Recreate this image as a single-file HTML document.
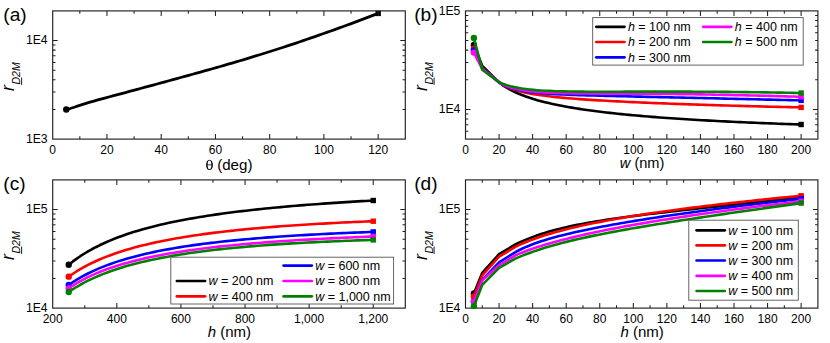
<!DOCTYPE html><html><head><meta charset="utf-8"><style>html,body{margin:0;padding:0;background:#fff}svg{display:block}text{font-family:"Liberation Sans", sans-serif;fill:#000}</style></head><body>
<svg width="830" height="343" viewBox="0 0 830 343">
<rect width="830" height="343" fill="#fff"/>
<clipPath id="ca"><rect x="52.7" y="7.9" width="352.6" height="131.2"/></clipPath>
<g>
<path d="M66.26 109.49 L70.21 108.52 L74.16 107.21 L78.11 105.86 L82.05 104.56 L86.00 103.33 L89.95 102.17 L93.90 101.04 L97.85 99.95 L101.80 98.88 L105.74 97.82 L109.69 96.76 L113.64 95.71 L117.59 94.65 L121.54 93.59 L125.49 92.53 L129.43 91.47 L133.38 90.40 L137.33 89.33 L141.28 88.26 L145.23 87.19 L149.18 86.12 L153.12 85.05 L157.07 83.98 L161.02 82.91 L164.97 81.83 L168.92 80.76 L172.87 79.68 L176.81 78.60 L180.76 77.52 L184.71 76.44 L188.66 75.35 L192.61 74.26 L196.56 73.17 L200.50 72.07 L204.45 70.97 L208.40 69.86 L212.35 68.74 L216.30 67.62 L220.25 66.49 L224.19 65.35 L228.14 64.21 L232.09 63.06 L236.04 61.90 L239.99 60.73 L243.93 59.55 L247.88 58.36 L251.83 57.16 L255.78 55.95 L259.73 54.73 L263.68 53.51 L267.62 52.27 L271.57 51.02 L275.52 49.76 L279.47 48.49 L283.42 47.21 L287.37 45.91 L291.31 44.61 L295.26 43.30 L299.21 41.97 L303.16 40.64 L307.11 39.29 L311.06 37.94 L315.00 36.57 L318.95 35.19 L322.90 33.80 L326.85 32.41 L330.80 31.00 L334.75 29.58 L338.69 28.16 L342.64 26.72 L346.59 25.28 L350.54 23.82 L354.49 22.36 L358.44 20.89 L362.38 19.41 L366.33 17.92 L370.28 16.42 L374.23 14.92 L378.18 13.41" stroke="#000000" stroke-width="2.8" fill="none" stroke-linejoin="round" stroke-linecap="butt"/>
<circle cx="66.26" cy="109.49" r="3.2" fill="#000000"/>
<rect x="375.48" y="10.71" width="5.4" height="5.4" fill="#000000"/>
</g>
<rect x="52.7" y="10.9" width="352.60" height="128.20" fill="none" stroke="#202020" stroke-width="1.15"/>
<text x="52.70" y="153.90" text-anchor="middle" font-size="12">0</text>
<text x="106.95" y="153.90" text-anchor="middle" font-size="12">20</text>
<text x="161.19" y="153.90" text-anchor="middle" font-size="12">40</text>
<text x="215.44" y="153.90" text-anchor="middle" font-size="12">60</text>
<text x="269.68" y="153.90" text-anchor="middle" font-size="12">80</text>
<text x="323.93" y="153.90" text-anchor="middle" font-size="12">100</text>
<text x="378.18" y="153.90" text-anchor="middle" font-size="12">120</text>
<path d="M79.82 139.1v-2.8M79.82 10.9v2.8M106.95 139.1v-5.0M106.95 10.9v5.0M134.07 139.1v-2.8M134.07 10.9v2.8M161.19 139.1v-5.0M161.19 10.9v5.0M188.32 139.1v-2.8M188.32 10.9v2.8M215.44 139.1v-5.0M215.44 10.9v5.0M242.56 139.1v-2.8M242.56 10.9v2.8M269.68 139.1v-5.0M269.68 10.9v5.0M296.81 139.1v-2.8M296.81 10.9v2.8M323.93 139.1v-5.0M323.93 10.9v5.0M351.05 139.1v-2.8M351.05 10.9v2.8M378.18 139.1v-5.0M378.18 10.9v5.0" stroke="#202020" stroke-width="1.05" fill="none"/>
<text x="47.60" y="142.90" text-anchor="end" font-size="12.2">1E3</text>
<text x="47.60" y="44.36" text-anchor="end" font-size="12.2">1E4</text>
<path d="M52.7 109.44h2.8M405.3 109.44h-2.8M52.7 92.09h2.8M405.3 92.09h-2.8M52.7 79.77h2.8M405.3 79.77h-2.8M52.7 70.23h2.8M405.3 70.23h-2.8M52.7 62.42h2.8M405.3 62.42h-2.8M52.7 55.83h2.8M405.3 55.83h-2.8M52.7 50.11h2.8M405.3 50.11h-2.8M52.7 45.07h2.8M405.3 45.07h-2.8M52.7 40.56h5.0M405.3 40.56h-5.0" stroke="#202020" stroke-width="1.05" fill="none"/>
<g transform="translate(14.1,91.0) rotate(-90)"><text x="0" y="0" font-size="18" font-style="italic">r</text><text x="6.4" y="6.0" font-size="10.6" font-style="italic">D2M</text><path d="M6.1 7.5h7.4" stroke="#000" stroke-width="0.9"/></g>
<text x="3.3" y="20.6" font-size="19.1">(a)</text>
<path fill-rule="evenodd" fill="#000" d="M209.5 159.7c2.1 0 3.4 2.3 3.4 5.2s-1.3 5.2-3.4 5.2s-3.4-2.3-3.4-5.2s1.3-5.2 3.4-5.2zM209.5 160.5c-1.2 0-1.8 1.5-1.9 3.9h3.8c-0.1-2.4-0.7-3.9-1.9-3.9zM207.6 165.3c0.1 2.5 0.7 4 1.9 4s1.8-1.5 1.9-4z"/>
<text x="217.2" y="170.3" font-size="15.1">(deg)</text>
<path d="M473.89 44.90 L482.28 66.00 L499.06 82.50 L502.89 85.30 L506.71 87.74 L510.53 89.88 L514.36 91.79 L518.18 93.51 L522.00 95.06 L525.83 96.49 L529.65 97.80 L533.47 99.00 L537.30 100.13 L541.12 101.17 L544.94 102.15 L548.77 103.07 L552.59 103.93 L556.41 104.75 L560.24 105.52 L564.06 106.25 L567.89 106.95 L571.71 107.61 L575.53 108.24 L579.36 108.85 L583.18 109.43 L587.00 109.98 L590.83 110.51 L594.65 111.02 L598.47 111.51 L602.30 111.98 L606.12 112.43 L609.94 112.87 L613.77 113.30 L617.59 113.70 L621.41 114.10 L625.24 114.48 L629.06 114.85 L632.88 115.21 L636.71 115.56 L640.53 115.89 L644.36 116.22 L648.18 116.54 L652.00 116.85 L655.83 117.15 L659.65 117.44 L663.47 117.72 L667.30 118.00 L671.12 118.27 L674.94 118.53 L678.77 118.78 L682.59 119.03 L686.41 119.27 L690.24 119.51 L694.06 119.74 L697.88 119.97 L701.71 120.19 L705.53 120.40 L709.35 120.61 L713.18 120.82 L717.00 121.02 L720.83 121.21 L724.65 121.40 L728.47 121.59 L732.30 121.77 L736.12 121.95 L739.94 122.13 L743.77 122.30 L747.59 122.47 L751.41 122.63 L755.24 122.80 L759.06 122.95 L762.88 123.11 L766.71 123.26 L770.53 123.41 L774.35 123.56 L778.18 123.70 L782.00 123.84 L785.83 123.98 L789.65 124.11 L793.47 124.24 L797.30 124.37 L801.12 124.50" stroke="#000000" stroke-width="2.6" fill="none" stroke-linejoin="round" stroke-linecap="butt"/>
<circle cx="473.89" cy="44.90" r="3.2" fill="#000000"/>
<rect x="798.42" y="121.80" width="5.4" height="5.4" fill="#000000"/>
<path d="M473.89 48.80 L482.28 68.00 L499.06 82.30 L502.89 84.75 L506.71 86.72 L510.53 88.34 L514.36 89.69 L518.18 90.85 L522.00 91.84 L525.83 92.71 L529.65 93.47 L533.47 94.15 L537.30 94.77 L541.12 95.32 L544.94 95.83 L548.77 96.29 L552.59 96.73 L556.41 97.13 L560.24 97.50 L564.06 97.85 L567.89 98.18 L571.71 98.50 L575.53 98.80 L579.36 99.08 L583.18 99.35 L587.00 99.61 L590.83 99.86 L594.65 100.10 L598.47 100.33 L602.30 100.56 L606.12 100.77 L609.94 100.98 L613.77 101.19 L617.59 101.38 L621.41 101.57 L625.24 101.76 L629.06 101.94 L632.88 102.12 L636.71 102.29 L640.53 102.46 L644.36 102.63 L648.18 102.79 L652.00 102.95 L655.83 103.11 L659.65 103.26 L663.47 103.41 L667.30 103.55 L671.12 103.70 L674.94 103.84 L678.77 103.98 L682.59 104.11 L686.41 104.24 L690.24 104.38 L694.06 104.50 L697.88 104.63 L701.71 104.76 L705.53 104.88 L709.35 105.00 L713.18 105.12 L717.00 105.23 L720.83 105.35 L724.65 105.46 L728.47 105.57 L732.30 105.68 L736.12 105.79 L739.94 105.90 L743.77 106.00 L747.59 106.10 L751.41 106.21 L755.24 106.31 L759.06 106.40 L762.88 106.50 L766.71 106.60 L770.53 106.69 L774.35 106.78 L778.18 106.88 L782.00 106.97 L785.83 107.06 L789.65 107.14 L793.47 107.23 L797.30 107.32 L801.12 107.40" stroke="#ff0000" stroke-width="2.6" fill="none" stroke-linejoin="round" stroke-linecap="butt"/>
<circle cx="473.89" cy="48.80" r="3.2" fill="#ff0000"/>
<rect x="798.42" y="104.70" width="5.4" height="5.4" fill="#ff0000"/>
<path d="M473.89 50.50 L482.28 68.50 L499.06 82.30 L502.89 84.63 L506.71 86.44 L510.53 87.87 L514.36 89.03 L518.18 89.97 L522.00 90.74 L525.83 91.39 L529.65 91.94 L533.47 92.40 L537.30 92.80 L541.12 93.15 L544.94 93.45 L548.77 93.72 L552.59 93.96 L556.41 94.17 L560.24 94.36 L564.06 94.53 L567.89 94.69 L571.71 94.84 L575.53 94.98 L579.36 95.11 L583.18 95.23 L587.00 95.35 L590.83 95.46 L594.65 95.56 L598.47 95.67 L602.30 95.77 L606.12 95.86 L609.94 95.96 L613.77 96.05 L617.59 96.14 L621.41 96.23 L625.24 96.32 L629.06 96.41 L632.88 96.49 L636.71 96.58 L640.53 96.67 L644.36 96.75 L648.18 96.84 L652.00 96.93 L655.83 97.01 L659.65 97.10 L663.47 97.18 L667.30 97.27 L671.12 97.36 L674.94 97.44 L678.77 97.53 L682.59 97.62 L686.41 97.70 L690.24 97.79 L694.06 97.88 L697.88 97.97 L701.71 98.05 L705.53 98.14 L709.35 98.23 L713.18 98.32 L717.00 98.41 L720.83 98.50 L724.65 98.59 L728.47 98.68 L732.30 98.77 L736.12 98.86 L739.94 98.95 L743.77 99.04 L747.59 99.13 L751.41 99.22 L755.24 99.31 L759.06 99.40 L762.88 99.49 L766.71 99.58 L770.53 99.67 L774.35 99.76 L778.18 99.85 L782.00 99.95 L785.83 100.04 L789.65 100.13 L793.47 100.22 L797.30 100.31 L801.12 100.40" stroke="#0000ff" stroke-width="2.6" fill="none" stroke-linejoin="round" stroke-linecap="butt"/>
<circle cx="473.89" cy="50.50" r="3.2" fill="#0000ff"/>
<rect x="798.42" y="97.70" width="5.4" height="5.4" fill="#0000ff"/>
<path d="M473.89 52.60 L482.28 69.00 L499.06 82.30 L502.89 84.39 L506.71 86.05 L510.53 87.39 L514.36 88.47 L518.18 89.35 L522.00 90.07 L525.83 90.67 L529.65 91.16 L533.47 91.58 L537.30 91.92 L541.12 92.20 L544.94 92.44 L548.77 92.64 L552.59 92.80 L556.41 92.94 L560.24 93.06 L564.06 93.15 L567.89 93.23 L571.71 93.30 L575.53 93.35 L579.36 93.40 L583.18 93.44 L587.00 93.47 L590.83 93.50 L594.65 93.52 L598.47 93.54 L602.30 93.56 L606.12 93.58 L609.94 93.60 L613.77 93.61 L617.59 93.63 L621.41 93.65 L625.24 93.67 L629.06 93.68 L632.88 93.70 L636.71 93.73 L640.53 93.75 L644.36 93.77 L648.18 93.80 L652.00 93.83 L655.83 93.86 L659.65 93.89 L663.47 93.93 L667.30 93.97 L671.12 94.01 L674.94 94.05 L678.77 94.10 L682.59 94.15 L686.41 94.20 L690.24 94.25 L694.06 94.30 L697.88 94.36 L701.71 94.42 L705.53 94.49 L709.35 94.55 L713.18 94.62 L717.00 94.69 L720.83 94.76 L724.65 94.84 L728.47 94.91 L732.30 94.99 L736.12 95.08 L739.94 95.16 L743.77 95.25 L747.59 95.34 L751.41 95.43 L755.24 95.52 L759.06 95.62 L762.88 95.71 L766.71 95.81 L770.53 95.92 L774.35 96.02 L778.18 96.13 L782.00 96.23 L785.83 96.34 L789.65 96.46 L793.47 96.57 L797.30 96.68 L801.12 96.80" stroke="#ff00ff" stroke-width="2.6" fill="none" stroke-linejoin="round" stroke-linecap="butt"/>
<circle cx="473.89" cy="52.60" r="3.2" fill="#ff00ff"/>
<rect x="798.42" y="94.10" width="5.4" height="5.4" fill="#ff00ff"/>
<path d="M473.89 38.00 L482.28 69.80 L499.06 82.30 L502.89 83.85 L506.71 85.14 L510.53 86.21 L514.36 87.11 L518.18 87.86 L522.00 88.50 L525.83 89.03 L529.65 89.49 L533.47 89.87 L537.30 90.19 L541.12 90.47 L544.94 90.70 L548.77 90.89 L552.59 91.06 L556.41 91.19 L560.24 91.31 L564.06 91.40 L567.89 91.48 L571.71 91.54 L575.53 91.59 L579.36 91.63 L583.18 91.66 L587.00 91.68 L590.83 91.69 L594.65 91.70 L598.47 91.71 L602.30 91.71 L606.12 91.71 L609.94 91.70 L613.77 91.70 L617.59 91.69 L621.41 91.68 L625.24 91.67 L629.06 91.66 L632.88 91.65 L636.71 91.65 L640.53 91.64 L644.36 91.63 L648.18 91.62 L652.00 91.62 L655.83 91.62 L659.65 91.61 L663.47 91.61 L667.30 91.62 L671.12 91.62 L674.94 91.62 L678.77 91.63 L682.59 91.64 L686.41 91.65 L690.24 91.66 L694.06 91.68 L697.88 91.70 L701.71 91.72 L705.53 91.74 L709.35 91.76 L713.18 91.79 L717.00 91.82 L720.83 91.85 L724.65 91.88 L728.47 91.92 L732.30 91.95 L736.12 91.99 L739.94 92.04 L743.77 92.08 L747.59 92.13 L751.41 92.18 L755.24 92.23 L759.06 92.28 L762.88 92.34 L766.71 92.39 L770.53 92.45 L774.35 92.51 L778.18 92.58 L782.00 92.64 L785.83 92.71 L789.65 92.78 L793.47 92.85 L797.30 92.93 L801.12 93.00" stroke="#008000" stroke-width="2.6" fill="none" stroke-linejoin="round" stroke-linecap="butt"/>
<circle cx="473.89" cy="38.00" r="3.2" fill="#008000"/>
<rect x="798.42" y="90.30" width="5.4" height="5.4" fill="#008000"/>
<rect x="465.5" y="10.9" width="352.40" height="128.20" fill="none" stroke="#202020" stroke-width="1.15"/>
<text x="465.50" y="153.90" text-anchor="middle" font-size="12">0</text>
<text x="499.06" y="153.90" text-anchor="middle" font-size="12">20</text>
<text x="532.62" y="153.90" text-anchor="middle" font-size="12">40</text>
<text x="566.19" y="153.90" text-anchor="middle" font-size="12">60</text>
<text x="599.75" y="153.90" text-anchor="middle" font-size="12">80</text>
<text x="633.31" y="153.90" text-anchor="middle" font-size="12">100</text>
<text x="666.87" y="153.90" text-anchor="middle" font-size="12">120</text>
<text x="700.43" y="153.90" text-anchor="middle" font-size="12">140</text>
<text x="734.00" y="153.90" text-anchor="middle" font-size="12">160</text>
<text x="767.56" y="153.90" text-anchor="middle" font-size="12">180</text>
<text x="801.12" y="153.90" text-anchor="middle" font-size="12">200</text>
<path d="M482.28 139.1v-2.8M482.28 10.9v2.8M499.06 139.1v-5.0M499.06 10.9v5.0M515.84 139.1v-2.8M515.84 10.9v2.8M532.62 139.1v-5.0M532.62 10.9v5.0M549.40 139.1v-2.8M549.40 10.9v2.8M566.19 139.1v-5.0M566.19 10.9v5.0M582.97 139.1v-2.8M582.97 10.9v2.8M599.75 139.1v-5.0M599.75 10.9v5.0M616.53 139.1v-2.8M616.53 10.9v2.8M633.31 139.1v-5.0M633.31 10.9v5.0M650.09 139.1v-2.8M650.09 10.9v2.8M666.87 139.1v-5.0M666.87 10.9v5.0M683.65 139.1v-2.8M683.65 10.9v2.8M700.43 139.1v-5.0M700.43 10.9v5.0M717.21 139.1v-2.8M717.21 10.9v2.8M734.00 139.1v-5.0M734.00 10.9v5.0M750.78 139.1v-2.8M750.78 10.9v2.8M767.56 139.1v-5.0M767.56 10.9v5.0M784.34 139.1v-2.8M784.34 10.9v2.8M801.12 139.1v-5.0M801.12 10.9v5.0" stroke="#202020" stroke-width="1.05" fill="none"/>
<text x="460.40" y="113.24" text-anchor="end" font-size="12.2">1E4</text>
<text x="460.40" y="14.70" text-anchor="end" font-size="12.2">1E5</text>
<path d="M465.5 131.30h2.8M817.9 131.30h-2.8M465.5 124.70h2.8M817.9 124.70h-2.8M465.5 118.99h2.8M817.9 118.99h-2.8M465.5 113.95h2.8M817.9 113.95h-2.8M465.5 109.44h5.0M817.9 109.44h-5.0M465.5 79.77h2.8M817.9 79.77h-2.8M465.5 62.42h2.8M817.9 62.42h-2.8M465.5 50.11h2.8M817.9 50.11h-2.8M465.5 40.56h2.8M817.9 40.56h-2.8M465.5 32.76h2.8M817.9 32.76h-2.8M465.5 26.16h2.8M817.9 26.16h-2.8M465.5 20.45h2.8M817.9 20.45h-2.8M465.5 15.41h2.8M817.9 15.41h-2.8" stroke="#202020" stroke-width="1.05" fill="none"/>
<g transform="translate(426.6,91.0) rotate(-90)"><text x="0" y="0" font-size="18" font-style="italic">r</text><text x="6.4" y="6.0" font-size="10.6" font-style="italic">D2M</text><path d="M6.1 7.5h7.4" stroke="#000" stroke-width="0.9"/></g>
<text x="414.2" y="20.6" font-size="19.1">(b)</text>
<text x="642.1" y="167.7" text-anchor="middle" font-size="14.6"><tspan font-style="italic">w</tspan> (nm)</text>
<rect x="592.7" y="17.6" width="210.5" height="47.5" fill="#fff" stroke="#555" stroke-width="0.9"/>
<path d="M596.3 26.8h28.2" stroke="#000000" stroke-width="2.7" stroke-linecap="round"/>
<text x="627.90" y="31.20" font-size="12.5"><tspan font-style="italic">h</tspan> = 100 nm</text>
<path d="M596.3 42.0h28.2" stroke="#ff0000" stroke-width="2.7" stroke-linecap="round"/>
<text x="627.90" y="46.40" font-size="12.5"><tspan font-style="italic">h</tspan> = 200 nm</text>
<path d="M596.3 57.3h28.2" stroke="#0000ff" stroke-width="2.7" stroke-linecap="round"/>
<text x="627.90" y="61.70" font-size="12.5"><tspan font-style="italic">h</tspan> = 300 nm</text>
<path d="M703.2 26.8h28.2" stroke="#ff00ff" stroke-width="2.7" stroke-linecap="round"/>
<text x="734.80" y="31.20" font-size="12.5"><tspan font-style="italic">h</tspan> = 400 nm</text>
<path d="M703.2 42.0h28.2" stroke="#008000" stroke-width="2.7" stroke-linecap="round"/>
<text x="734.80" y="46.40" font-size="12.5"><tspan font-style="italic">h</tspan> = 500 nm</text>
<path d="M68.73 264.70 L72.58 261.67 L76.44 258.84 L80.29 256.21 L84.15 253.74 L88.00 251.43 L91.86 249.26 L95.71 247.22 L99.56 245.29 L103.42 243.47 L107.27 241.74 L111.13 240.11 L114.98 238.56 L118.84 237.08 L122.69 235.67 L126.55 234.33 L130.40 233.05 L134.26 231.83 L138.11 230.66 L141.97 229.54 L145.82 228.46 L149.68 227.43 L153.53 226.44 L157.38 225.49 L161.24 224.58 L165.09 223.70 L168.95 222.85 L172.80 222.03 L176.66 221.24 L180.51 220.48 L184.37 219.75 L188.22 219.04 L192.08 218.35 L195.93 217.68 L199.79 217.04 L203.64 216.42 L207.50 215.81 L211.35 215.23 L215.20 214.66 L219.06 214.11 L222.91 213.57 L226.77 213.05 L230.62 212.55 L234.48 212.06 L238.33 211.58 L242.19 211.12 L246.04 210.67 L249.90 210.23 L253.75 209.80 L257.61 209.38 L261.46 208.98 L265.31 208.58 L269.17 208.19 L273.02 207.82 L276.88 207.45 L280.73 207.09 L284.59 206.74 L288.44 206.40 L292.30 206.07 L296.15 205.74 L300.01 205.42 L303.86 205.11 L307.72 204.80 L311.57 204.51 L315.43 204.22 L319.28 203.93 L323.13 203.65 L326.99 203.38 L330.84 203.11 L334.70 202.85 L338.55 202.59 L342.41 202.34 L346.26 202.10 L350.12 201.86 L353.97 201.62 L357.83 201.39 L361.68 201.16 L365.54 200.94 L369.39 200.72 L373.25 200.51" stroke="#000000" stroke-width="2.6" fill="none" stroke-linejoin="round" stroke-linecap="butt"/>
<circle cx="68.73" cy="264.70" r="3.2" fill="#000000"/>
<rect x="370.55" y="197.81" width="5.4" height="5.4" fill="#000000"/>
<path d="M68.73 276.65 L72.58 273.97 L76.44 271.48 L80.29 269.15 L84.15 266.98 L88.00 264.93 L91.86 263.02 L95.71 261.21 L99.56 259.50 L103.42 257.89 L107.27 256.37 L111.13 254.92 L114.98 253.55 L118.84 252.24 L122.69 251.00 L126.55 249.81 L130.40 248.68 L134.26 247.60 L138.11 246.57 L141.97 245.59 L145.82 244.64 L149.68 243.74 L153.53 242.87 L157.38 242.03 L161.24 241.23 L165.09 240.46 L168.95 239.72 L172.80 239.01 L176.66 238.32 L180.51 237.66 L184.37 237.02 L188.22 236.41 L192.08 235.81 L195.93 235.24 L199.79 234.68 L203.64 234.15 L207.50 233.63 L211.35 233.13 L215.20 232.64 L219.06 232.18 L222.91 231.72 L226.77 231.28 L230.62 230.85 L234.48 230.44 L238.33 230.04 L242.19 229.65 L246.04 229.27 L249.90 228.90 L253.75 228.55 L257.61 228.20 L261.46 227.87 L265.31 227.54 L269.17 227.22 L273.02 226.91 L276.88 226.61 L280.73 226.32 L284.59 226.04 L288.44 225.76 L292.30 225.49 L296.15 225.23 L300.01 224.98 L303.86 224.73 L307.72 224.49 L311.57 224.25 L315.43 224.02 L319.28 223.80 L323.13 223.58 L326.99 223.37 L330.84 223.16 L334.70 222.96 L338.55 222.76 L342.41 222.57 L346.26 222.39 L350.12 222.20 L353.97 222.02 L357.83 221.85 L361.68 221.68 L365.54 221.52 L369.39 221.36 L373.25 221.20" stroke="#ff0000" stroke-width="2.6" fill="none" stroke-linejoin="round" stroke-linecap="butt"/>
<circle cx="68.73" cy="276.65" r="3.2" fill="#ff0000"/>
<rect x="370.55" y="218.50" width="5.4" height="5.4" fill="#ff0000"/>
<path d="M68.73 285.00 L72.58 282.36 L76.44 279.90 L80.29 277.62 L84.15 275.48 L88.00 273.48 L91.86 271.60 L95.71 269.84 L99.56 268.17 L103.42 266.60 L107.27 265.12 L111.13 263.72 L114.98 262.39 L118.84 261.12 L122.69 259.92 L126.55 258.78 L130.40 257.69 L134.26 256.65 L138.11 255.66 L141.97 254.71 L145.82 253.80 L149.68 252.94 L153.53 252.11 L157.38 251.31 L161.24 250.55 L165.09 249.81 L168.95 249.11 L172.80 248.43 L176.66 247.78 L180.51 247.15 L184.37 246.55 L188.22 245.96 L192.08 245.40 L195.93 244.86 L199.79 244.34 L203.64 243.83 L207.50 243.35 L211.35 242.88 L215.20 242.42 L219.06 241.98 L222.91 241.56 L226.77 241.15 L230.62 240.75 L234.48 240.36 L238.33 239.99 L242.19 239.62 L246.04 239.27 L249.90 238.93 L253.75 238.60 L257.61 238.28 L261.46 237.97 L265.31 237.67 L269.17 237.38 L273.02 237.09 L276.88 236.82 L280.73 236.55 L284.59 236.29 L288.44 236.03 L292.30 235.79 L296.15 235.55 L300.01 235.32 L303.86 235.09 L307.72 234.87 L311.57 234.65 L315.43 234.45 L319.28 234.24 L323.13 234.05 L326.99 233.85 L330.84 233.67 L334.70 233.48 L338.55 233.31 L342.41 233.13 L346.26 232.97 L350.12 232.80 L353.97 232.64 L357.83 232.49 L361.68 232.33 L365.54 232.19 L369.39 232.04 L373.25 231.90" stroke="#0000ff" stroke-width="2.6" fill="none" stroke-linejoin="round" stroke-linecap="butt"/>
<circle cx="68.73" cy="285.00" r="3.2" fill="#0000ff"/>
<rect x="370.55" y="229.20" width="5.4" height="5.4" fill="#0000ff"/>
<path d="M68.73 288.35 L72.58 285.77 L76.44 283.39 L80.29 281.17 L84.15 279.09 L88.00 277.15 L91.86 275.33 L95.71 273.62 L99.56 272.01 L103.42 270.50 L107.27 269.06 L111.13 267.70 L114.98 266.42 L118.84 265.19 L122.69 264.03 L126.55 262.93 L130.40 261.88 L134.26 260.87 L138.11 259.91 L141.97 259.00 L145.82 258.12 L149.68 257.28 L153.53 256.48 L157.38 255.71 L161.24 254.97 L165.09 254.26 L168.95 253.58 L172.80 252.92 L176.66 252.29 L180.51 251.68 L184.37 251.09 L188.22 250.53 L192.08 249.98 L195.93 249.46 L199.79 248.95 L203.64 248.46 L207.50 247.98 L211.35 247.52 L215.20 247.08 L219.06 246.65 L222.91 246.23 L226.77 245.83 L230.62 245.43 L234.48 245.05 L238.33 244.69 L242.19 244.33 L246.04 243.98 L249.90 243.65 L253.75 243.32 L257.61 243.00 L261.46 242.69 L265.31 242.39 L269.17 242.10 L273.02 241.82 L276.88 241.54 L280.73 241.27 L284.59 241.01 L288.44 240.76 L292.30 240.51 L296.15 240.27 L300.01 240.03 L303.86 239.80 L307.72 239.58 L311.57 239.36 L315.43 239.15 L319.28 238.94 L323.13 238.74 L326.99 238.54 L330.84 238.35 L334.70 238.16 L338.55 237.97 L342.41 237.80 L346.26 237.62 L350.12 237.45 L353.97 237.28 L357.83 237.12 L361.68 236.96 L365.54 236.80 L369.39 236.65 L373.25 236.50" stroke="#ff00ff" stroke-width="2.6" fill="none" stroke-linejoin="round" stroke-linecap="butt"/>
<circle cx="68.73" cy="288.35" r="3.2" fill="#ff00ff"/>
<rect x="370.55" y="233.80" width="5.4" height="5.4" fill="#ff00ff"/>
<path d="M68.73 291.99 L72.58 289.41 L76.44 287.01 L80.29 284.76 L84.15 282.66 L88.00 280.69 L91.86 278.84 L95.71 277.09 L99.56 275.44 L103.42 273.89 L107.27 272.42 L111.13 271.02 L114.98 269.70 L118.84 268.44 L122.69 267.24 L126.55 266.11 L130.40 265.02 L134.26 263.98 L138.11 263.00 L141.97 262.05 L145.82 261.15 L149.68 260.28 L153.53 259.45 L157.38 258.66 L161.24 257.90 L165.09 257.16 L168.95 256.46 L172.80 255.79 L176.66 255.14 L180.51 254.51 L184.37 253.91 L188.22 253.33 L192.08 252.78 L195.93 252.24 L199.79 251.72 L203.64 251.22 L207.50 250.74 L211.35 250.28 L215.20 249.83 L219.06 249.40 L222.91 248.98 L226.77 248.58 L230.62 248.18 L234.48 247.81 L238.33 247.44 L242.19 247.09 L246.04 246.75 L249.90 246.42 L253.75 246.10 L257.61 245.79 L261.46 245.49 L265.31 245.20 L269.17 244.92 L273.02 244.65 L276.88 244.38 L280.73 244.13 L284.59 243.88 L288.44 243.64 L292.30 243.41 L296.15 243.18 L300.01 242.97 L303.86 242.76 L307.72 242.55 L311.57 242.35 L315.43 242.16 L319.28 241.97 L323.13 241.79 L326.99 241.62 L330.84 241.45 L334.70 241.28 L338.55 241.12 L342.41 240.97 L346.26 240.82 L350.12 240.68 L353.97 240.53 L357.83 240.40 L361.68 240.27 L365.54 240.14 L369.39 240.02 L373.25 239.90" stroke="#008000" stroke-width="2.6" fill="none" stroke-linejoin="round" stroke-linecap="butt"/>
<circle cx="68.73" cy="291.99" r="3.2" fill="#008000"/>
<rect x="370.55" y="237.20" width="5.4" height="5.4" fill="#008000"/>
<rect x="52.7" y="179.9" width="352.60" height="128.20" fill="none" stroke="#202020" stroke-width="1.15"/>
<text x="52.70" y="322.90" text-anchor="middle" font-size="12">200</text>
<text x="116.81" y="322.90" text-anchor="middle" font-size="12">400</text>
<text x="180.92" y="322.90" text-anchor="middle" font-size="12">600</text>
<text x="245.03" y="322.90" text-anchor="middle" font-size="12">800</text>
<text x="309.14" y="322.90" text-anchor="middle" font-size="12">1,000</text>
<text x="373.25" y="322.90" text-anchor="middle" font-size="12">1,200</text>
<path d="M84.75 308.1v-2.8M84.75 179.9v2.8M116.81 308.1v-5.0M116.81 179.9v5.0M148.86 308.1v-2.8M148.86 179.9v2.8M180.92 308.1v-5.0M180.92 179.9v5.0M212.97 308.1v-2.8M212.97 179.9v2.8M245.03 308.1v-5.0M245.03 179.9v5.0M277.08 308.1v-2.8M277.08 179.9v2.8M309.14 308.1v-5.0M309.14 179.9v5.0M341.19 308.1v-2.8M341.19 179.9v2.8M373.25 308.1v-5.0M373.25 179.9v5.0" stroke="#202020" stroke-width="1.05" fill="none"/>
<text x="47.60" y="311.90" text-anchor="end" font-size="12.2">1E4</text>
<text x="47.60" y="213.36" text-anchor="end" font-size="12.2">1E5</text>
<path d="M52.7 278.44h2.8M405.3 278.44h-2.8M52.7 261.09h2.8M405.3 261.09h-2.8M52.7 248.77h2.8M405.3 248.77h-2.8M52.7 239.23h2.8M405.3 239.23h-2.8M52.7 231.42h2.8M405.3 231.42h-2.8M52.7 224.83h2.8M405.3 224.83h-2.8M52.7 219.11h2.8M405.3 219.11h-2.8M52.7 214.07h2.8M405.3 214.07h-2.8M52.7 209.56h5.0M405.3 209.56h-5.0" stroke="#202020" stroke-width="1.05" fill="none"/>
<g transform="translate(14.1,260.0) rotate(-90)"><text x="0" y="0" font-size="18" font-style="italic">r</text><text x="6.4" y="6.0" font-size="10.6" font-style="italic">D2M</text><path d="M6.1 7.5h7.4" stroke="#000" stroke-width="0.9"/></g>
<text x="3.3" y="190.0" font-size="19.1">(c)</text>
<text x="229.3" y="337.4" text-anchor="middle" font-size="15"><tspan font-style="italic">h</tspan> (nm)</text>
<rect x="170.8" y="257.2" width="222.8" height="46.8" fill="#fff" stroke="#555" stroke-width="0.9"/>
<path d="M176.9 281h28.2" stroke="#000000" stroke-width="2.7" stroke-linecap="round"/>
<text x="208.50" y="285.40" font-size="12.5"><tspan font-style="italic">w</tspan> = 200 nm</text>
<path d="M176.9 296.3h28.2" stroke="#ff0000" stroke-width="2.7" stroke-linecap="round"/>
<text x="208.50" y="300.70" font-size="12.5"><tspan font-style="italic">w</tspan> = 400 nm</text>
<path d="M283.6 265.6h28.2" stroke="#0000ff" stroke-width="2.7" stroke-linecap="round"/>
<text x="315.20" y="270.00" font-size="12.5"><tspan font-style="italic">w</tspan> = 600 nm</text>
<path d="M283.6 281h28.2" stroke="#ff00ff" stroke-width="2.7" stroke-linecap="round"/>
<text x="315.20" y="285.40" font-size="12.5"><tspan font-style="italic">w</tspan> = 800 nm</text>
<path d="M283.6 296.3h28.2" stroke="#008000" stroke-width="2.7" stroke-linecap="round"/>
<text x="315.20" y="300.70" font-size="12.5"><tspan font-style="italic">w</tspan> = 1,000 nm</text>
<clipPath id="cd"><rect x="465.5" y="179.9" width="352.4" height="128.9"/></clipPath>
<rect x="465.5" y="179.9" width="352.40" height="128.20" fill="none" stroke="#202020" stroke-width="1.15"/>
<g clip-path="url(#cd)">
<path d="M473.89 293.50 L482.28 272.80 L499.06 254.20 L515.84 244.20 L519.45 242.52 L523.07 240.91 L526.68 239.39 L530.29 237.96 L533.90 236.60 L537.51 235.31 L541.12 234.10 L544.73 232.95 L548.34 231.86 L551.95 230.83 L555.56 229.85 L559.18 228.92 L562.79 228.04 L566.40 227.20 L570.01 226.39 L573.62 225.62 L577.23 224.88 L580.84 224.17 L584.45 223.49 L588.06 222.83 L591.68 222.20 L595.29 221.58 L598.90 220.99 L602.51 220.41 L606.12 219.85 L609.73 219.31 L613.34 218.78 L616.95 218.27 L620.56 217.76 L624.18 217.27 L627.79 216.78 L631.40 216.31 L635.01 215.84 L638.62 215.39 L642.23 214.94 L645.84 214.49 L649.45 214.05 L653.06 213.62 L656.68 213.19 L660.29 212.77 L663.90 212.35 L667.51 211.94 L671.12 211.52 L674.73 211.11 L678.34 210.71 L681.95 210.30 L685.56 209.90 L689.18 209.50 L692.79 209.10 L696.40 208.71 L700.01 208.31 L703.62 207.92 L707.23 207.52 L710.84 207.13 L714.45 206.74 L718.06 206.35 L721.68 205.95 L725.29 205.56 L728.90 205.17 L732.51 204.78 L736.12 204.39 L739.73 203.99 L743.34 203.60 L746.95 203.21 L750.56 202.81 L754.17 202.42 L757.79 202.02 L761.40 201.63 L765.01 201.23 L768.62 200.83 L772.23 200.43 L775.84 200.03 L779.45 199.63 L783.06 199.23 L786.67 198.83 L790.29 198.42 L793.90 198.02 L797.51 197.61 L801.12 197.20" stroke="#000000" stroke-width="2.6" fill="none" stroke-linejoin="round" stroke-linecap="butt"/>
<circle cx="473.89" cy="293.50" r="3.2" fill="#000000"/>
<rect x="798.42" y="194.50" width="5.4" height="5.4" fill="#000000"/>
<path d="M473.89 296.40 L482.28 275.40 L499.06 256.70 L515.84 246.60 L519.45 244.89 L523.07 243.29 L526.68 241.78 L530.29 240.36 L533.90 239.01 L537.51 237.73 L541.12 236.50 L544.73 235.34 L548.34 234.22 L551.95 233.15 L555.56 232.12 L559.18 231.13 L562.79 230.18 L566.40 229.25 L570.01 228.36 L573.62 227.50 L577.23 226.66 L580.84 225.85 L584.45 225.06 L588.06 224.29 L591.68 223.54 L595.29 222.81 L598.90 222.10 L602.51 221.41 L606.12 220.73 L609.73 220.06 L613.34 219.41 L616.95 218.78 L620.56 218.15 L624.18 217.54 L627.79 216.94 L631.40 216.35 L635.01 215.77 L638.62 215.21 L642.23 214.65 L645.84 214.10 L649.45 213.56 L653.06 213.03 L656.68 212.50 L660.29 211.98 L663.90 211.48 L667.51 210.97 L671.12 210.48 L674.73 209.99 L678.34 209.51 L681.95 209.03 L685.56 208.56 L689.18 208.10 L692.79 207.64 L696.40 207.19 L700.01 206.74 L703.62 206.29 L707.23 205.85 L710.84 205.42 L714.45 204.99 L718.06 204.57 L721.68 204.15 L725.29 203.73 L728.90 203.32 L732.51 202.91 L736.12 202.50 L739.73 202.10 L743.34 201.70 L746.95 201.31 L750.56 200.92 L754.17 200.53 L757.79 200.15 L761.40 199.76 L765.01 199.39 L768.62 199.01 L772.23 198.64 L775.84 198.27 L779.45 197.90 L783.06 197.54 L786.67 197.17 L790.29 196.81 L793.90 196.46 L797.51 196.10 L801.12 195.75" stroke="#ff0000" stroke-width="2.6" fill="none" stroke-linejoin="round" stroke-linecap="butt"/>
<circle cx="473.89" cy="296.40" r="3.2" fill="#ff0000"/>
<rect x="798.42" y="193.05" width="5.4" height="5.4" fill="#ff0000"/>
<path d="M473.89 301.50 L482.28 279.90 L499.06 262.40 L515.84 251.90 L519.45 250.00 L523.07 248.27 L526.68 246.68 L530.29 245.21 L533.90 243.84 L537.51 242.55 L541.12 241.34 L544.73 240.19 L548.34 239.10 L551.95 238.06 L555.56 237.06 L559.18 236.10 L562.79 235.18 L566.40 234.28 L570.01 233.42 L573.62 232.58 L577.23 231.77 L580.84 230.97 L584.45 230.20 L588.06 229.45 L591.68 228.71 L595.29 227.99 L598.90 227.28 L602.51 226.59 L606.12 225.91 L609.73 225.24 L613.34 224.58 L616.95 223.94 L620.56 223.30 L624.18 222.68 L627.79 222.06 L631.40 221.45 L635.01 220.86 L638.62 220.27 L642.23 219.68 L645.84 219.11 L649.45 218.54 L653.06 217.98 L656.68 217.42 L660.29 216.87 L663.90 216.33 L667.51 215.79 L671.12 215.26 L674.73 214.73 L678.34 214.21 L681.95 213.69 L685.56 213.18 L689.18 212.68 L692.79 212.17 L696.40 211.68 L700.01 211.18 L703.62 210.70 L707.23 210.21 L710.84 209.73 L714.45 209.25 L718.06 208.78 L721.68 208.31 L725.29 207.85 L728.90 207.39 L732.51 206.93 L736.12 206.47 L739.73 206.02 L743.34 205.57 L746.95 205.13 L750.56 204.69 L754.17 204.25 L757.79 203.81 L761.40 203.38 L765.01 202.95 L768.62 202.52 L772.23 202.10 L775.84 201.68 L779.45 201.26 L783.06 200.84 L786.67 200.43 L790.29 200.02 L793.90 199.61 L797.51 199.20 L801.12 198.80" stroke="#0000ff" stroke-width="2.6" fill="none" stroke-linejoin="round" stroke-linecap="butt"/>
<circle cx="473.89" cy="301.50" r="3.2" fill="#0000ff"/>
<rect x="798.42" y="196.10" width="5.4" height="5.4" fill="#0000ff"/>
<path d="M473.89 301.60 L482.28 280.40 L499.06 265.30 L515.84 255.10 L519.45 253.60 L523.07 252.18 L526.68 250.82 L530.29 249.53 L533.90 248.29 L537.51 247.10 L541.12 245.95 L544.73 244.85 L548.34 243.78 L551.95 242.75 L555.56 241.74 L559.18 240.77 L562.79 239.82 L566.40 238.90 L570.01 238.00 L573.62 237.13 L577.23 236.27 L580.84 235.43 L584.45 234.62 L588.06 233.81 L591.68 233.03 L595.29 232.26 L598.90 231.50 L602.51 230.76 L606.12 230.03 L609.73 229.31 L613.34 228.61 L616.95 227.92 L620.56 227.23 L624.18 226.56 L627.79 225.90 L631.40 225.25 L635.01 224.61 L638.62 223.97 L642.23 223.35 L645.84 222.73 L649.45 222.12 L653.06 221.52 L656.68 220.92 L660.29 220.34 L663.90 219.75 L667.51 219.18 L671.12 218.61 L674.73 218.05 L678.34 217.50 L681.95 216.95 L685.56 216.41 L689.18 215.87 L692.79 215.33 L696.40 214.81 L700.01 214.29 L703.62 213.77 L707.23 213.26 L710.84 212.75 L714.45 212.24 L718.06 211.75 L721.68 211.25 L725.29 210.76 L728.90 210.28 L732.51 209.79 L736.12 209.32 L739.73 208.84 L743.34 208.37 L746.95 207.91 L750.56 207.44 L754.17 206.98 L757.79 206.53 L761.40 206.07 L765.01 205.62 L768.62 205.18 L772.23 204.74 L775.84 204.30 L779.45 203.86 L783.06 203.42 L786.67 202.99 L790.29 202.57 L793.90 202.14 L797.51 201.72 L801.12 201.30" stroke="#ff00ff" stroke-width="2.6" fill="none" stroke-linejoin="round" stroke-linecap="butt"/>
<circle cx="473.89" cy="301.60" r="3.2" fill="#ff00ff"/>
<rect x="798.42" y="198.60" width="5.4" height="5.4" fill="#ff00ff"/>
<path d="M473.89 306.20 L482.28 284.80 L499.06 267.80 L515.84 258.40 L519.45 256.86 L523.07 255.40 L526.68 253.99 L530.29 252.66 L533.90 251.38 L537.51 250.15 L541.12 248.98 L544.73 247.85 L548.34 246.76 L551.95 245.72 L555.56 244.71 L559.18 243.74 L562.79 242.79 L566.40 241.88 L570.01 240.99 L573.62 240.13 L577.23 239.29 L580.84 238.47 L584.45 237.67 L588.06 236.89 L591.68 236.13 L595.29 235.38 L598.90 234.65 L602.51 233.93 L606.12 233.23 L609.73 232.54 L613.34 231.85 L616.95 231.18 L620.56 230.52 L624.18 229.87 L627.79 229.23 L631.40 228.59 L635.01 227.97 L638.62 227.35 L642.23 226.73 L645.84 226.13 L649.45 225.53 L653.06 224.93 L656.68 224.34 L660.29 223.76 L663.90 223.18 L667.51 222.60 L671.12 222.03 L674.73 221.46 L678.34 220.90 L681.95 220.34 L685.56 219.79 L689.18 219.23 L692.79 218.68 L696.40 218.14 L700.01 217.59 L703.62 217.05 L707.23 216.52 L710.84 215.98 L714.45 215.45 L718.06 214.91 L721.68 214.38 L725.29 213.86 L728.90 213.33 L732.51 212.81 L736.12 212.28 L739.73 211.76 L743.34 211.24 L746.95 210.73 L750.56 210.21 L754.17 209.69 L757.79 209.18 L761.40 208.67 L765.01 208.16 L768.62 207.65 L772.23 207.14 L775.84 206.63 L779.45 206.12 L783.06 205.62 L786.67 205.11 L790.29 204.60 L793.90 204.10 L797.51 203.60 L801.12 203.10" stroke="#008000" stroke-width="2.6" fill="none" stroke-linejoin="round" stroke-linecap="butt"/>
<circle cx="473.89" cy="306.20" r="3.2" fill="#008000"/>
<rect x="798.42" y="200.40" width="5.4" height="5.4" fill="#008000"/>
</g>
<text x="465.50" y="322.90" text-anchor="middle" font-size="12">0</text>
<text x="499.06" y="322.90" text-anchor="middle" font-size="12">20</text>
<text x="532.62" y="322.90" text-anchor="middle" font-size="12">40</text>
<text x="566.19" y="322.90" text-anchor="middle" font-size="12">60</text>
<text x="599.75" y="322.90" text-anchor="middle" font-size="12">80</text>
<text x="633.31" y="322.90" text-anchor="middle" font-size="12">100</text>
<text x="666.87" y="322.90" text-anchor="middle" font-size="12">120</text>
<text x="700.43" y="322.90" text-anchor="middle" font-size="12">140</text>
<text x="734.00" y="322.90" text-anchor="middle" font-size="12">160</text>
<text x="767.56" y="322.90" text-anchor="middle" font-size="12">180</text>
<text x="801.12" y="322.90" text-anchor="middle" font-size="12">200</text>
<path d="M482.28 308.1v-2.8M482.28 179.9v2.8M499.06 308.1v-5.0M499.06 179.9v5.0M515.84 308.1v-2.8M515.84 179.9v2.8M532.62 308.1v-5.0M532.62 179.9v5.0M549.40 308.1v-2.8M549.40 179.9v2.8M566.19 308.1v-5.0M566.19 179.9v5.0M582.97 308.1v-2.8M582.97 179.9v2.8M599.75 308.1v-5.0M599.75 179.9v5.0M616.53 308.1v-2.8M616.53 179.9v2.8M633.31 308.1v-5.0M633.31 179.9v5.0M650.09 308.1v-2.8M650.09 179.9v2.8M666.87 308.1v-5.0M666.87 179.9v5.0M683.65 308.1v-2.8M683.65 179.9v2.8M700.43 308.1v-5.0M700.43 179.9v5.0M717.21 308.1v-2.8M717.21 179.9v2.8M734.00 308.1v-5.0M734.00 179.9v5.0M750.78 308.1v-2.8M750.78 179.9v2.8M767.56 308.1v-5.0M767.56 179.9v5.0M784.34 308.1v-2.8M784.34 179.9v2.8M801.12 308.1v-5.0M801.12 179.9v5.0" stroke="#202020" stroke-width="1.05" fill="none"/>
<text x="460.40" y="311.90" text-anchor="end" font-size="12.2">1E4</text>
<text x="460.40" y="213.36" text-anchor="end" font-size="12.2">1E5</text>
<path d="M465.5 278.44h2.8M817.9 278.44h-2.8M465.5 261.09h2.8M817.9 261.09h-2.8M465.5 248.77h2.8M817.9 248.77h-2.8M465.5 239.23h2.8M817.9 239.23h-2.8M465.5 231.42h2.8M817.9 231.42h-2.8M465.5 224.83h2.8M817.9 224.83h-2.8M465.5 219.11h2.8M817.9 219.11h-2.8M465.5 214.07h2.8M817.9 214.07h-2.8M465.5 209.56h5.0M817.9 209.56h-5.0" stroke="#202020" stroke-width="1.05" fill="none"/>
<g transform="translate(426.6,260.0) rotate(-90)"><text x="0" y="0" font-size="18" font-style="italic">r</text><text x="6.4" y="6.0" font-size="10.6" font-style="italic">D2M</text><path d="M6.1 7.5h7.4" stroke="#000" stroke-width="0.9"/></g>
<text x="414.2" y="190.0" font-size="19.1">(d)</text>
<text x="642.1" y="337.4" text-anchor="middle" font-size="15"><tspan font-style="italic">h</tspan> (nm)</text>
<rect x="688.8" y="220.2" width="109.5" height="80.0" fill="#fff" stroke="#555" stroke-width="0.9"/>
<path d="M696.6 230.3h28.2" stroke="#000000" stroke-width="2.7" stroke-linecap="round"/>
<text x="728.20" y="234.70" font-size="12.5"><tspan font-style="italic">w</tspan> = 100 nm</text>
<path d="M696.6 245.3h28.2" stroke="#ff0000" stroke-width="2.7" stroke-linecap="round"/>
<text x="728.20" y="249.70" font-size="12.5"><tspan font-style="italic">w</tspan> = 200 nm</text>
<path d="M696.6 260.5h28.2" stroke="#0000ff" stroke-width="2.7" stroke-linecap="round"/>
<text x="728.20" y="264.90" font-size="12.5"><tspan font-style="italic">w</tspan> = 300 nm</text>
<path d="M696.6 275.8h28.2" stroke="#ff00ff" stroke-width="2.7" stroke-linecap="round"/>
<text x="728.20" y="280.20" font-size="12.5"><tspan font-style="italic">w</tspan> = 400 nm</text>
<path d="M696.6 291h28.2" stroke="#008000" stroke-width="2.7" stroke-linecap="round"/>
<text x="728.20" y="295.40" font-size="12.5"><tspan font-style="italic">w</tspan> = 500 nm</text>
</svg></body></html>
